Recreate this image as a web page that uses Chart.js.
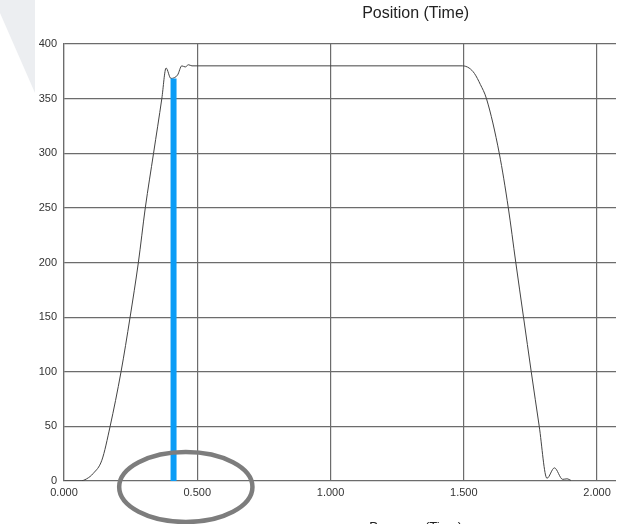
<!DOCTYPE html>
<html>
<head>
<meta charset="utf-8">
<title>Position (Time)</title>
<script src="https://cdn.jsdelivr.net/npm/chart.js@4.4.0/dist/chart.umd.min.js"></script>
<style>
  body { margin: 0; background: #fff; }
  canvas { display: block; }
</style>
</head>
<body>
<canvas id="chart" width="631" height="524"></canvas>
<script>
// position trace, time in s
var posX = [0.000, 0.060, 0.085, 0.110, 0.142, 0.173, 0.214, 0.248, 0.279, 0.305, 0.336, 0.367, 0.383,
  0.401, 0.426, 0.442, 0.455, 0.467, 0.480, 1.495, 1.520, 1.540, 1.562, 1.585, 1.633, 1.667, 1.695,
  1.724, 1.753, 1.783, 1.812, 1.840, 1.871, 1.887, 1.902];
var posY = [0, 0, 2, 7, 19, 50, 100, 150, 200, 250, 300, 350, 378,
  368.5, 371.6, 380, 379, 381, 380, 380, 378, 373, 363, 350, 300, 250, 200,
  150, 100, 50, 2.5, 12, 1.5, 2, 0.5];

// blue marker at the dip after the first peak
var markerX = [0.411, 0.411];
var markerY = [0, 368.5];

// ring around the marker's foot (data units)
var ringCenter = [0.457, -5.5];
var ringRadius = [0.25, 32];

var xTicks = [0, 0.5, 1.0, 1.5, 2.0];
var yTicks = [0, 50, 100, 150, 200, 250, 300, 350, 400];

var topTitle = "Position (Time)";
var bottomTitle = "Pressure (Time)";

var FONT = "'Liberation Sans', Arial, sans-serif";
var GRID = "#6c6c6c";

function toPoints(xs, ys) {
  return xs.map(function (x, i) { return { x: x, y: ys[i] }; });
}

// grey corner shape and the two captions
const decorations = {
  id: "decorations",
  beforeDraw(chart) {
    var ctx = chart.ctx;
    ctx.save();
    ctx.fillStyle = "#fff";
    ctx.fillRect(0, 0, chart.width, chart.height);
    ctx.fillStyle = "#eceef1";
    ctx.beginPath();
    ctx.moveTo(0, 0);
    ctx.lineTo(35, 0);
    ctx.lineTo(35, 93);
    ctx.lineTo(0, 13);
    ctx.closePath();
    ctx.fill();
    ctx.restore();
  },
  afterDraw(chart) {
    var ctx = chart.ctx;
    var a = chart.chartArea;
    var cx = a.left + (a.right - a.left) * 0.637;
    ctx.save();
    ctx.fillStyle = "#222";
    ctx.textAlign = "center";
    ctx.textBaseline = "middle";
    ctx.font = "16px " + FONT;
    ctx.fillText(topTitle, cx, 14);
    ctx.font = "13px " + FONT;
    ctx.fillText(bottomTitle, cx, a.bottom + 46);
    ctx.restore();
  },
  afterDatasetsDraw(chart) {
    var ctx = chart.ctx;
    var xs = chart.scales.x, ys = chart.scales.y;
    var px = xs.getPixelForValue(ringCenter[0]);
    var py = ys.getPixelForValue(ringCenter[1]);
    var rx = xs.getPixelForValue(ringCenter[0] + ringRadius[0]) - px;
    var ry = py - ys.getPixelForValue(ringCenter[1] + ringRadius[1]);
    ctx.save();
    ctx.strokeStyle = "#7d7d7d";
    ctx.lineWidth = 4.5;
    ctx.beginPath();
    ctx.ellipse(px, py, rx, ry, 0, 0, Math.PI * 2);
    ctx.stroke();
    ctx.restore();
  }
};

const myChart = new Chart("chart", {
  type: "line",
  data: {
    datasets: [{
      label: "marker",
      data: toPoints(markerX, markerY),
      borderColor: "#0b9cf6",
      borderWidth: 6,
      borderCapStyle: "butt",
      pointRadius: 0,
      order: 0
    }, {
      label: "position",
      data: toPoints(posX, posY),
      borderColor: "#444",
      borderWidth: 1,
      pointRadius: 0,
      cubicInterpolationMode: "monotone",
      order: 1
    }]
  },
  options: {
    responsive: false,
    animation: false,
    events: [],
    layout: { padding: { left: 0, top: 44, right: 15, bottom: 0 } },
    plugins: {
      legend: { display: false },
      tooltip: { enabled: false },
      title: { display: false }
    },
    scales: {
      x: {
        type: "linear",
        min: 0,
        max: 2.071,
        afterBuildTicks: function (scale) {
          scale.ticks = xTicks.map(function (v) { return { value: v }; });
        },
        afterFit: function (scale) { scale.height = 43; },
        grid: { color: GRID, lineWidth: 1.2, drawTicks: false },
        border: { display: false },
        ticks: {
          padding: 5,
          color: "#333",
          font: { family: FONT, size: 11 },
          maxRotation: 0,
          callback: function (v) { return v.toFixed(3); }
        }
      },
      y: {
        type: "linear",
        min: 0,
        max: 400,
        afterBuildTicks: function (scale) {
          scale.ticks = yTicks.map(function (v) { return { value: v }; });
        },
        afterFit: function (scale) { scale.width = 64; },
        grid: { color: GRID, lineWidth: 1.2, drawTicks: false },
        border: { display: true, color: GRID, width: 1.2 },
        ticks: {
          padding: 7,
          color: "#333",
          font: { family: FONT, size: 11 }
        }
      }
    }
  },
  plugins: [decorations]
});
</script>
</body>
</html>
